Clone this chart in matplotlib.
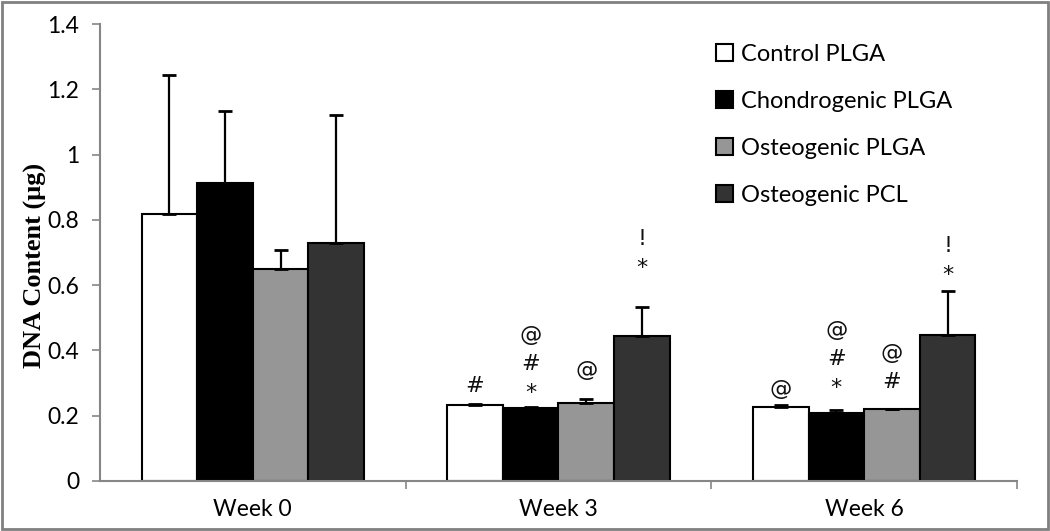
import numpy as np
import matplotlib
matplotlib.use('Agg')
import matplotlib.pyplot as plt
from matplotlib.patches import Rectangle

# Data
weeks = ['Week 0', 'Week 3', 'Week 6']
groups = ['Control PLGA', 'Chondrogenic PLGA', 'Osteogenic PLGA', 'Osteogenic PCL']
control_plga = [0.818, 0.233, 0.226]
chondro_plga = [0.914, 0.225, 0.209]
osteo_plga = [0.650, 0.238, 0.219]
osteo_pcl = [0.729, 0.444, 0.448]
control_err = [0.427, 0.003, 0.006]
chondro_err = [0.220, 0.003, 0.008]
osteo_plga_err = [0.058, 0.012, 0.003]
osteo_pcl_err = [0.392, 0.089, 0.134]
# significance marks, top to bottom
control_marks = ['', '#', '@']
chondro_marks = ['', '@#*', '@#*']
osteo_plga_marks = ['', '@', '@#']
osteo_pcl_marks = ['', '!*', '!*']

means = [control_plga, chondro_plga, osteo_plga, osteo_pcl]
errs = [control_err, chondro_err, osteo_plga_err, osteo_pcl_err]
marks = [control_marks, chondro_marks, osteo_plga_marks, osteo_pcl_marks]
colors = ['white', 'black', '#969696', '#333333']
# height (data units) of the lowest mark above each bar
mark_base = {(0, 1): 0.291, (1, 1): 0.270, (2, 1): 0.340, (3, 1): 0.653,
             (0, 2): 0.282, (1, 2): 0.285, (2, 2): 0.303, (3, 2): 0.631}

fig = plt.figure(figsize=(10.5, 5.31), dpi=100)
ax = fig.add_axes([0.0952, 0.0942, 0.8734, 0.8606])

x = np.arange(len(weeks))
w = 0.182
for i in range(4):
    pos = x + (i - 1.5) * w
    ax.bar(pos, means[i], w, color=colors[i], edgecolor='black', linewidth=1.5,
           label=groups[i], zorder=2)
    ax.errorbar(pos, means[i], yerr=[np.zeros(3), errs[i]], fmt='none',
                ecolor='black', elinewidth=1.6, capsize=5, capthick=2, zorder=3)
    for j in range(3):
        m = marks[i][j]
        for k, ch in enumerate(reversed(m)):
            ax.annotate(ch, (pos[j], mark_base[(i, j)]), xytext=(0, 21 * k),
                        textcoords='offset points', ha='center', va='center',
                        fontsize=16, family='DejaVu Sans', color='#111111')

ax.set_xlim(-0.5, 2.5)
ax.set_ylim(0, 1.4)
ax.set_yticks(np.arange(0, 1.41, 0.2))
ax.set_yticklabels(['0', '0.2', '0.4', '0.6', '0.8', '1', '1.2', '1.4'])
ax.set_xticks(x)
ax.set_xticklabels(weeks)
ax.set_xticks([0.5, 1.5, 2.5], minor=True)
ax.tick_params(axis='x', which='major', length=0, pad=13)
ax.tick_params(axis='x', which='minor', length=6, width=1.2, color='#868686')
ax.tick_params(axis='y', length=6, width=1.2, color='#868686', pad=9)
for lab in ax.get_xticklabels() + ax.get_yticklabels():
    lab.set_fontfamily('Lato')
    lab.set_fontsize(16.5)
for s in ['top', 'right']:
    ax.spines[s].set_visible(False)
for s in ['left', 'bottom']:
    ax.spines[s].set_color('#868686')
    ax.spines[s].set_linewidth(1.5)

fig.text(0.034, 0.5, 'DNA Content (μg)', rotation=90, ha='center', va='center',
         fontsize=19, fontweight='bold', family='Liberation Serif')

ax.legend(loc='upper left', bbox_to_anchor=(0.682, 0.917), bbox_transform=fig.transFigure,
          frameon=False, prop={'family': 'Lato', 'size': 17}, handlelength=0.72,
          handleheight=0.72, handletextpad=0.35, labelspacing=1.1,
          borderpad=0, borderaxespad=0)

fig.patches.append(Rectangle((0.002, 0.003), 0.996, 0.994, transform=fig.transFigure,
                             fill=False, edgecolor='#808080', linewidth=2))

fig.savefig('out.png', dpi=100)
